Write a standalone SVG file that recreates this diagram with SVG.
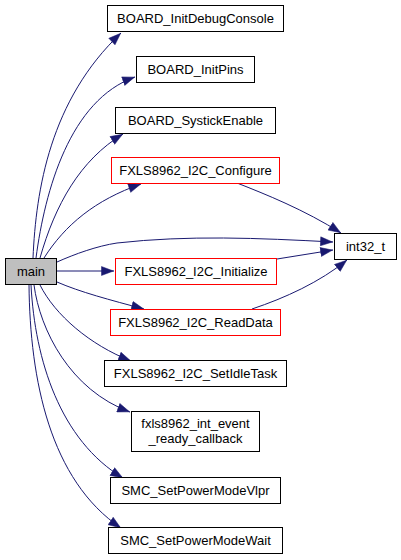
<svg xmlns="http://www.w3.org/2000/svg" width="401" height="560" viewBox="0 0 401 560">
<style>
.n rect{fill:#fff;stroke:#000;stroke-width:1}
.r rect{stroke:#ff0000}
.m rect{fill:#bfbfbf}
text{font-family:"Liberation Sans",Arial,sans-serif;font-size:13px;fill:#000;text-anchor:middle}
.e path{fill:none;stroke:#191970;stroke-width:1;marker-end:url(#ah)}
</style>
<defs>
<marker id="ah" markerUnits="userSpaceOnUse" markerWidth="13" markerHeight="10" refX="13" refY="5" orient="auto">
<path d="M0.5,0.5 L12.5,5 L0.5,9.5 z" fill="#191970" stroke="#191970" stroke-width="0.5"/>
</marker>
</defs>
<rect width="401" height="560" fill="#fff"/>
<g class="e">
<path d="M33,258 C36,190 50,100 121,33"/>
<path d="M36,258 C45,190 70,100 135,77"/>
<path d="M40,258 C55,205 80,160 123,134"/>
<path d="M44,258 C65,225 95,200 141,184"/>
<path d="M57,262 C75,254 97,246 117,243 C188,235 258,238 333,242"/>
<path d="M57,271 L114,271"/>
<path d="M57,282 C80,292 110,300 144,309"/>
<path d="M237,183 C265,194 305,210 341,233"/>
<path d="M277,259 L333,250"/>
<path d="M252,309 C285,298 320,282 347,260"/>
<path d="M40,285 C55,315 90,345 131,361"/>
<path d="M34,285 C40,330 70,390 130,412"/>
<path d="M31,285 C35,360 60,440 123,478"/>
<path d="M29,285 C30,380 50,480 121,528"/>
</g>
<g id="main" class="n m"><rect x="5.5" y="258.5" width="51" height="26"/><text x="31" y="276">main</text></g>
<g id="BOARD_InitDebugConsole" class="n"><rect x="107.5" y="5.5" width="176" height="26"/><text x="195.5" y="23">BOARD_InitDebugConsole</text></g>
<g id="BOARD_InitPins" class="n"><rect x="136.5" y="56.5" width="118" height="26"/><text x="195.5" y="74">BOARD_InitPins</text></g>
<g id="BOARD_SystickEnable" class="n"><rect x="115.5" y="107.5" width="160" height="26"/><text x="195.5" y="125">BOARD_SystickEnable</text></g>
<g id="FXLS8962_I2C_Configure" class="n r"><rect x="111.5" y="157.5" width="168" height="26"/><text x="195.5" y="175">FXLS8962_I2C_Configure</text></g>
<g id="int32_t" class="n"><rect x="334.5" y="233.5" width="62" height="26"/><text x="365.5" y="251">int32_t</text></g>
<g id="FXLS8962_I2C_Initialize" class="n r"><rect x="115.5" y="258.5" width="161" height="26"/><text x="196" y="276">FXLS8962_I2C_Initialize</text></g>
<g id="FXLS8962_I2C_ReadData" class="n r"><rect x="110.5" y="309.5" width="170" height="26"/><text x="195.5" y="327">FXLS8962_I2C_ReadData</text></g>
<g id="FXLS8962_I2C_SetIdleTask" class="n"><rect x="104.5" y="360.5" width="182" height="26"/><text x="195.5" y="378">FXLS8962_I2C_SetIdleTask</text></g>
<g id="fxls8962_int_event_ready_callback" class="n"><rect x="131.5" y="411.5" width="128" height="40"/><text x="195.5" y="428">fxls8962_int_event</text><text x="195.5" y="443">_ready_callback</text></g>
<g id="SMC_SetPowerModeVlpr" class="n"><rect x="110.5" y="477.5" width="170" height="26"/><text x="195.5" y="495">SMC_SetPowerModeVlpr</text></g>
<g id="SMC_SetPowerModeWait" class="n"><rect x="108.5" y="527.5" width="174" height="26"/><text x="195.5" y="545">SMC_SetPowerModeWait</text></g>
</svg>
